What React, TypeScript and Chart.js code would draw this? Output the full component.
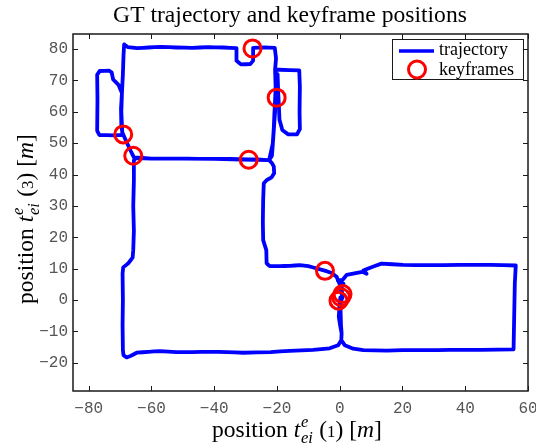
import React, { useEffect, useRef } from 'react';
import { Chart, registerables } from 'chart.js';

Chart.register(...registerables);

// ---- data (metres) ----
const trajectoryPoints: [number, number][] = [
  [0.2, 0.8], [0.0, -1.0], [-0.3, -5.3], [0.2, -8.5], [0.6, -10.6], [0.5, -12.8],
  [-0.5, -14.4], [-3.2, -15.4], [-8.5, -15.9], [-15.9, -16.2], [-22.0, -16.6],
  [-30.8, -16.8], [-36.0, -16.6], [-41.4, -16.5], [-47.0, -16.6], [-52.0, -16.6],
  [-57.3, -16.3], [-61.0, -16.5], [-64.7, -16.8], [-66.8, -17.9], [-67.9, -18.3],
  [-68.9, -17.6], [-69.1, -16.0], [-69.2, -8.0], [-69.1, 0.0], [-69.2, 8.5],
  [-69.0, 10.4], [-67.4, 11.7], [-66.0, 13.5], [-65.8, 15.9], [-65.6, 22.0],
  [-65.8, 30.0], [-65.6, 38.0], [-65.6, 44.5], [-65.0, 45.2], [-60.0, 45.1],
  [-52.0, 45.1], [-45.0, 45.0], [-38.0, 45.0], [-32.0, 44.9], [-26.0, 44.8],
  [-22.5, 44.6], [-21.6, 46.0], [-21.3, 50.0], [-21.0, 55.0], [-20.8, 60.0],
  [-20.3, 64.5], [-20.5, 70.0], [-20.6, 73.4], [-20.3, 77.0], [-20.7, 80.4],
  [-24.0, 80.5], [-27.6, 80.4], [-27.6, 76.3], [-28.5, 75.2], [-31.5, 75.1],
  [-32.9, 76.3], [-32.9, 80.3], [-37.0, 80.5], [-42.0, 80.6], [-47.0, 80.4],
  [-52.0, 80.5], [-57.0, 80.7], [-61.0, 80.5], [-64.5, 80.3], [-67.5, 80.6],
  [-68.7, 81.5], [-68.9, 78.0], [-69.1, 72.0], [-69.4, 66.0], [-70.5, 68.6],
  [-72.2, 70.3], [-72.7, 72.6], [-73.5, 73.1], [-76.5, 73.0], [-77.3, 71.8],
  [-77.2, 64.0], [-77.3, 54.0], [-76.6, 52.6], [-72.0, 52.5], [-69.2, 52.6],
  [-69.6, 56.0], [-69.7, 61.0], [-69.4, 66.0], [-69.6, 60.0], [-69.3, 53.5],
  [-68.0, 50.5], [-66.6, 47.5], [-65.6, 45.5], [-60.0, 45.1], [-40.0, 45.0],
  [-22.5, 44.6], [-21.3, 50.0], [-20.6, 60.0], [-20.4, 70.0], [-20.4, 73.4],
  [-19.2, 73.4], [-12.9, 73.2], [-12.7, 68.0], [-12.8, 60.0], [-12.7, 54.5],
  [-13.6, 52.8], [-16.4, 52.8], [-18.3, 54.2], [-19.2, 57.5], [-19.4, 62.0],
  [-19.6, 66.0], [-19.8, 72.0], [-20.5, 66.0], [-21.0, 55.0], [-21.6, 46.0],
  [-22.5, 44.6], [-21.5, 43.5], [-21.0, 42.5], [-20.9, 40.4], [-21.7, 39.1],
  [-23.3, 38.2], [-24.2, 37.2], [-24.4, 31.9], [-24.5, 25.0], [-24.4, 19.1],
  [-23.4, 15.9], [-23.3, 11.7], [-22.3, 10.8], [-19.1, 10.8], [-15.9, 10.9],
  [-12.7, 11.1], [-10.0, 10.8], [-7.4, 10.1], [-4.5, 9.3], [-2.5, 8.6],
  [-1.0, 7.4], [0.0, 5.0], [0.3, 2.5], [1.0, 1.2], [0.2, -1.0], [0.4, -8.0],
  [0.6, -10.6], [0.5, -12.8], [1.6, -14.4], [4.3, -15.5], [7.5, -16.0],
  [15.0, -16.1], [20.0, -16.0], [27.6, -16.0], [35.0, -15.9], [45.0, -15.9],
  [55.4, -15.7], [55.6, -5.0], [55.8, 5.3], [56.1, 11.0], [48.0, 11.2],
  [38.2, 11.2], [28.0, 11.1], [20.2, 11.2], [13.3, 11.6], [9.5, 10.2],
  [7.5, 9.4], [8.6, 8.4], [7.2, 9.0], [2.2, 8.0], [1.0, 6.5], [-0.6, 6.2],
  [1.2, 5.2], [0.6, 4.0], [0.8, 1.5],
];

const keyframePoints: [number, number][] = [
  [-27.8, 80.2], [-20.1, 64.5], [-69.0, 52.8], [-65.8, 46.0], [-29.0, 44.7],
  [-4.7, 9.3], [0.9, 1.9], [0.4, 0.9], [-0.4, -0.2],
];

const xTicks = [-80, -60, -40, -20, 0, 20, 40, 60];
const yTicks = [-20, -10, 0, 10, 20, 30, 40, 50, 60, 70, 80];
const xRange = [-85, 60];
const yRange = [-29, 84.8];

const TITLE = 'GT trajectory and keyframe positions';
const LEGEND_LABELS = ['trajectory', 'keyframes'];

const SERIF = '"Liberation Serif", "Times New Roman", serif';
const MONO = '"Liberation Mono", "DejaVu Sans Mono", monospace';
const BLUE = '#0000ff';
const RED = '#ff0000';

// target plot box (pixels)
const AREA = { left: 73, top: 34, right: 528, bottom: 391 };

type Run = { t: string; italic?: boolean; scale?: number; dy?: number; stack?: Run[] };

function axisLabelRuns(idx: string): Run[] {
  return [
    { t: 'position ' },
    { t: 't', italic: true },
    {
      t: '',
      stack: [
        { t: 'e', italic: true, scale: 0.7, dy: -0.42 },
        { t: 'ei', italic: true, scale: 0.7, dy: 0.26 },
      ],
    },
    { t: ' (' },
    { t: idx, scale: 0.72 },
    { t: ') [' },
    { t: 'm', italic: true },
    { t: ']' },
  ];
}

function setFont(ctx: CanvasRenderingContext2D, r: Run, size: number) {
  ctx.font = `${r.italic ? 'italic ' : ''}${size * (r.scale ?? 1)}px ${SERIF}`;
}

function runsWidth(ctx: CanvasRenderingContext2D, runs: Run[], size: number) {
  let w = 0;
  for (const r of runs) {
    if (r.stack) {
      let m = 0;
      for (const s of r.stack) {
        setFont(ctx, s, size);
        m = Math.max(m, ctx.measureText(s.t).width);
      }
      w += m + size * 0.05;
    } else {
      setFont(ctx, r, size);
      w += ctx.measureText(r.t).width;
    }
  }
  return w;
}

function drawRuns(ctx: CanvasRenderingContext2D, runs: Run[], targetW: number, cx: number, baseline: number) {
  const size = (20 * targetW) / runsWidth(ctx, runs, 20);
  let x = cx - runsWidth(ctx, runs, size) / 2;
  ctx.textAlign = 'left';
  ctx.textBaseline = 'alphabetic';
  for (const r of runs) {
    if (r.stack) {
      let m = 0;
      for (const s of r.stack) {
        setFont(ctx, s, size);
        ctx.fillText(s.t, x + size * 0.03, baseline + (s.dy ?? 0) * size);
        m = Math.max(m, ctx.measureText(s.t).width);
      }
      x += m + size * 0.05;
    } else {
      setFont(ctx, r, size);
      ctx.fillText(r.t, x, baseline + (r.dy ?? 0) * size);
      x += ctx.measureText(r.t).width;
    }
  }
}

function fitSize(ctx: CanvasRenderingContext2D, text: string, target: number) {
  ctx.font = `20px ${SERIF}`;
  return (20 * target) / ctx.measureText(text).width;
}

const decorPlugin = {
  id: 'decor',
  afterDraw(chart: any) {
    const { ctx, chartArea: a, scales } = chart;
    ctx.save();
    // axes box
    ctx.strokeStyle = '#1a1a1a';
    ctx.lineWidth = 1.5;
    ctx.strokeRect(a.left, a.top, a.right - a.left, a.bottom - a.top);
    // inward ticks on all four sides
    ctx.lineWidth = 1;
    const tl = 5;
    ctx.beginPath();
    for (const v of xTicks) {
      const p = Math.round(scales.x.getPixelForValue(v)) + 0.5;
      if (p < a.left || p > a.right + 1) continue;
      ctx.moveTo(p, a.bottom);
      ctx.lineTo(p, a.bottom - tl);
      ctx.moveTo(p, a.top);
      ctx.lineTo(p, a.top + tl);
    }
    for (const v of yTicks) {
      const p = Math.round(scales.y.getPixelForValue(v)) + 0.5;
      if (p < a.top || p > a.bottom) continue;
      ctx.moveTo(a.left, p);
      ctx.lineTo(a.left + tl, p);
      ctx.moveTo(a.right, p);
      ctx.lineTo(a.right - tl, p);
    }
    ctx.stroke();

    // legend
    const lx = 392, ly = 39, lw = 131, lh = 40;
    ctx.fillStyle = '#ffffff';
    ctx.fillRect(lx, ly, lw, lh);
    ctx.strokeStyle = '#1a1a1a';
    ctx.lineWidth = 1;
    ctx.strokeRect(lx + 0.5, ly + 0.5, lw, lh);
    ctx.strokeStyle = BLUE;
    ctx.lineWidth = 3.5;
    ctx.beginPath();
    ctx.moveTo(399, 51);
    ctx.lineTo(434, 51);
    ctx.stroke();
    ctx.strokeStyle = RED;
    ctx.lineWidth = 3;
    ctx.beginPath();
    ctx.arc(417, 69.5, 8.5, 0, Math.PI * 2);
    ctx.stroke();
    const ls = fitSize(ctx, LEGEND_LABELS[0], 69);
    ctx.font = `${ls}px ${SERIF}`;
    ctx.fillStyle = '#000';
    ctx.textAlign = 'left';
    ctx.textBaseline = 'alphabetic';
    ctx.fillText(LEGEND_LABELS[0], 439, 55);
    ctx.fillText(LEGEND_LABELS[1], 439, 75);

    // title
    const ts = fitSize(ctx, TITLE, 354);
    ctx.font = `${ts}px ${SERIF}`;
    ctx.textAlign = 'center';
    ctx.fillText(TITLE, 290, 22);

    // axis labels
    drawRuns(ctx, axisLabelRuns('1'), 170, 297, 437);
    ctx.translate(33, 219);
    ctx.rotate(-Math.PI / 2);
    drawRuns(ctx, axisLabelRuns('3'), 170, 0, 0);
    ctx.restore();
  },
};

const fmt = (v: number) => String(v).replace('-', '\u2212');

export default function App() {
  const ref = useRef<HTMLCanvasElement>(null);
  useEffect(() => {
    if (!ref.current) return;
    const chart = new Chart(ref.current, {
      type: 'scatter',
      data: {
        datasets: [
          {
            label: LEGEND_LABELS[1],
            data: keyframePoints.map(([x, y]) => ({ x, y })),
            showLine: false,
            pointStyle: 'circle',
            pointRadius: 8.5,
            pointHoverRadius: 8.5,
            borderWidth: 3,
            borderColor: RED,
            backgroundColor: 'rgba(0,0,0,0)',
          },
          {
            label: LEGEND_LABELS[0],
            data: trajectoryPoints.map(([x, y]) => ({ x, y })),
            showLine: true,
            pointRadius: 0,
            borderWidth: 3.8,
            borderColor: BLUE,
            backgroundColor: BLUE,
            tension: 0.0001,
            borderJoinStyle: 'round',
            borderCapStyle: 'round',
          } as any,
        ],
      },
      options: {
        animation: false,
        responsive: false,
        maintainAspectRatio: false,
        events: [],
        layout: { padding: { top: AREA.top, right: 536 - AREA.right, left: 0, bottom: 0 } },
        plugins: { legend: { display: false }, title: { display: false }, tooltip: { enabled: false } },
        scales: {
          x: {
            type: 'linear',
            min: xRange[0],
            max: xRange[1],
            grid: { display: false, drawTicks: false },
            border: { display: false },
            ticks: {
              color: '#555555',
              font: { family: MONO, size: 16 },
              padding: 8,
              maxRotation: 0,
              autoSkip: false,
              callback: (v: any) => fmt(Number(v)),
            },
            afterBuildTicks: (s: any) => {
              s.ticks = xTicks.map((v) => ({ value: v }));
            },
            afterFit: (s: any) => {
              s.height = 444 - AREA.bottom;
              s.paddingLeft = 0;
              s.paddingRight = 0;
            },
          },
          y: {
            type: 'linear',
            min: yRange[0],
            max: yRange[1],
            grid: { display: false, drawTicks: false },
            border: { display: false },
            ticks: {
              color: '#555555',
              font: { family: MONO, size: 16 },
              padding: 5,
              autoSkip: false,
              callback: (v: any) => fmt(Number(v)),
            },
            afterBuildTicks: (s: any) => {
              s.ticks = yTicks.map((v) => ({ value: v }));
            },
            afterFit: (s: any) => {
              s.width = AREA.left;
              s.paddingTop = 0;
              s.paddingBottom = 0;
            },
          },
        },
      },
      plugins: [
        {
          id: 'fixArea',
          afterLayout(chart: any) {
            const a = chart.chartArea;
            a.left = AREA.left;
            a.right = AREA.right;
            a.top = AREA.top;
            a.bottom = AREA.bottom;
            a.width = AREA.right - AREA.left;
            a.height = AREA.bottom - AREA.top;
            const x = chart.scales.x;
            x.left = AREA.left;
            x.right = AREA.right;
            x.width = AREA.right - AREA.left;
            x.top = AREA.bottom;
            x.configure();
            const y = chart.scales.y;
            y.top = AREA.top;
            y.bottom = AREA.bottom;
            y.height = AREA.bottom - AREA.top;
            y.right = AREA.left;
            y.configure();
          },
        },
        decorPlugin,
      ],
    });
    return () => chart.destroy();
  }, []);
  return (
    <div style={{ position: 'absolute', left: 0, top: 0, width: 536, height: 444, background: '#fff' }}>
      <canvas ref={ref} width={536} height={444} style={{ display: 'block' }} />
    </div>
  );
}
